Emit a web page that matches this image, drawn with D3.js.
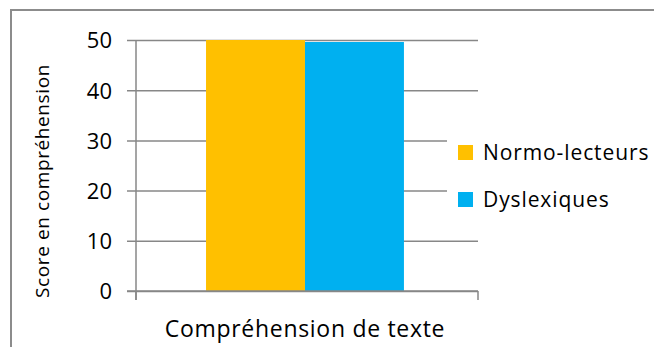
<!DOCTYPE html>
<html>
<head>
<meta charset="utf-8">
<script src="https://cdn.jsdelivr.net/npm/d3@7"></script>
<style>
  html, body { margin: 0; padding: 0; background: #fff; }
  svg { display: block; font-family: "Open Sans", "Noto Sans", sans-serif; }
</style>
</head>
<body>
<svg id="chart" width="654" height="347"></svg>
<script>
// Comprehension scores per reader group
const categories = ["Compréhension de texte"];
const seriesNames = ["Normo-lecteurs", "Dyslexiques"];
const seriesValues = [50, 49.6];
const seriesColors = ["#FFC000", "#00B0F0"];
const yTicks = [0, 10, 20, 30, 40, 50];

const svg = d3.select("#chart");
const W = 654, H = 347;
const plot = { left: 136, right: 478, top: 40, bottom: 291 };
const gridColor = "#878787";

// outer chart frame
svg.append("rect")
  .attr("x", 11).attr("y", 10)
  .attr("width", W).attr("height", H)
  .attr("fill", "#fff")
  .attr("stroke", "#8c8c8c").attr("stroke-width", 2);

const y = d3.scaleLinear().domain([0, 50]).range([plot.bottom, plot.top]);
const x0 = d3.scaleBand().domain(categories).range([plot.left, plot.right])
  .paddingInner(0).paddingOuter(0.364).align(0.486);
const x1 = d3.scaleBand().domain(seriesNames).range([0, x0.bandwidth()]);

// horizontal gridlines + left ticks
const yAxis = d3.axisLeft(y).tickValues(yTicks).tickSize(-(plot.right - plot.left)).tickSizeOuter(0).tickPadding(24);
const gy = svg.append("g").attr("transform", `translate(${plot.left},0)`).call(yAxis);
gy.select(".domain").remove();
gy.selectAll(".tick line").attr("stroke", gridColor).attr("stroke-width", 1.5).attr("x1", -9);
gy.selectAll(".tick text")
  .attr("fill", "#000").attr("font-size", 22)
  .attr("font-family", "Open Sans, sans-serif")
  .attr("dy", "0.36em");

// vertical axis line
svg.append("line")
  .attr("x1", plot.left).attr("x2", plot.left)
  .attr("y1", plot.top).attr("y2", plot.bottom + 9)
  .attr("stroke", gridColor).attr("stroke-width", 1.5);

// bars
const g = svg.append("g");
categories.forEach(cat => {
  seriesNames.forEach((s, i) => {
    g.append("rect")
      .attr("x", x0(cat) + x1(s))
      .attr("y", y(seriesValues[i]))
      .attr("width", x1.bandwidth())
      .attr("height", y(0) - y(seriesValues[i]))
      .attr("fill", seriesColors[i]);
  });
});

// bottom axis with outer ticks
const xAxis = d3.axisBottom(x0).tickSize(0).tickPadding(0);
const gx = svg.append("g").attr("transform", `translate(0,${plot.bottom})`).call(xAxis);
gx.select(".domain").remove();
gx.selectAll(".tick text")
  .attr("fill", "#000").attr("font-size", 23)
  .attr("letter-spacing", "0.7px")
  .attr("font-family", "Open Sans, sans-serif")
  .attr("y", 46).attr("dy", 0);
svg.append("line")
  .attr("x1", plot.left - 9).attr("x2", plot.right)
  .attr("y1", plot.bottom).attr("y2", plot.bottom)
  .attr("stroke", gridColor).attr("stroke-width", 1.5);
[plot.left, plot.right].forEach(px => {
  svg.append("line")
    .attr("x1", px).attr("x2", px)
    .attr("y1", plot.bottom).attr("y2", plot.bottom + 9)
    .attr("stroke", gridColor).attr("stroke-width", 1.5);
});

// y axis title
svg.append("text")
  .attr("transform", `translate(42,181) rotate(-90)`)
  .attr("text-anchor", "middle")
  .attr("dy", "0.35em")
  .attr("font-size", 19)
  .attr("letter-spacing", "0.6px")
  .text("Score en compréhension");

// legend with white backing
const legend = svg.append("g").attr("transform", "translate(447,118)");
legend.append("rect").attr("width", 210).attr("height", 100).attr("fill", "#fff");
seriesNames.forEach((s, i) => {
  const row = legend.append("g").attr("transform", `translate(11,${27 + i * 47})`);
  row.append("rect").attr("width", 15).attr("height", 15).attr("fill", seriesColors[i]);
  row.append("text")
    .attr("x", 25).attr("y", 7.5).attr("dy", "0.36em")
    .attr("font-size", 21)
    .attr("letter-spacing", "0.9px")
    .text(s);
});
</script>
</body>
</html>
